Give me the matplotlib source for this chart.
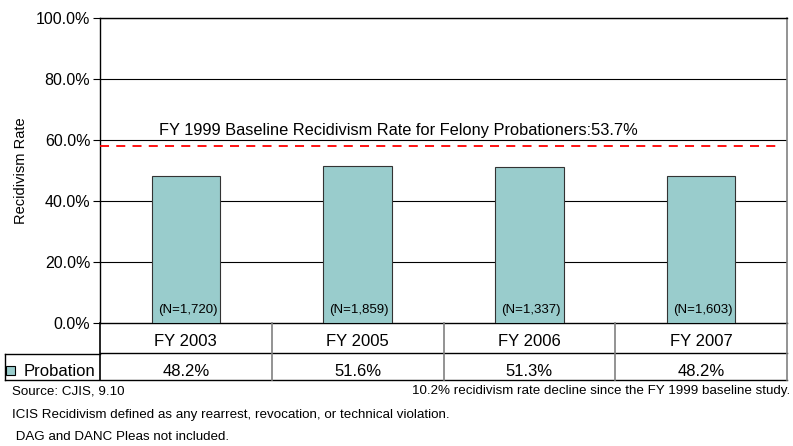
import matplotlib
matplotlib.use("Agg")
import matplotlib.pyplot as plt
from matplotlib.lines import Line2D
from matplotlib.patches import Rectangle

plt.rcParams['font.family'] = ['Liberation Sans', 'DejaVu Sans']

categories = ["FY 2003", "FY 2005", "FY 2006", "FY 2007"]
probation = [48.2, 51.6, 51.3, 48.2]
n_labels = ["(N=1,720)", "(N=1,859)", "(N=1,337)", "(N=1,603)"]
baseline_line = 58.0
baseline_text = "FY 1999 Baseline Recidivism Rate for Felony Probationers:53.7%"
yticks = [0, 20, 40, 60, 80, 100]
series_name = "Probation"
bar_color = "#99CCCC"

W, H = 793, 446
fig = plt.figure(figsize=(W / 100, H / 100), dpi=100)
L, R, T, B = 100, 787, 18, 323
ax = fig.add_axes([L / W, 1 - B / H, (R - L) / W, (B - T) / H])

x = list(range(len(categories)))
ax.bar(x, probation, width=0.4, color=bar_color, edgecolor="#333333", linewidth=0.8, zorder=3)
ax.set_xlim(-0.5, len(categories) - 0.5)
ax.set_ylim(0, 100)
ax.set_yticks(yticks)
ax.set_yticklabels([f"{v:.1f}%" for v in yticks], fontsize=11.5)
ax.set_xticks([])
ax.tick_params(axis='y', length=5, width=0.8, pad=2)
for v in yticks[1:]:
    ax.axhline(v, color="black", linewidth=0.8, zorder=1)
for s in ['top', 'left', 'bottom']:
    ax.spines[s].set_color('black')
    ax.spines[s].set_linewidth(1.0)
ax.spines['right'].set_color('#808080')
ax.spines['right'].set_linewidth(1.2)
ax.set_ylabel("Recidivism Rate", fontsize=10.5, labelpad=6)

for xi, lab in zip(x, n_labels):
    ax.text(xi + 0.01, 2.3, lab, ha='center', va='bottom', fontsize=9.5, zorder=4)

ax.plot([-0.5, len(categories) - 0.5 - 0.04], [baseline_line, baseline_line],
        color='red', linestyle=(0, (5, 4)), linewidth=1.3, zorder=4)
ax.text(-0.155, baseline_line + 2.5, baseline_text, fontsize=11.8, ha='left', va='bottom')

# data table below the axis
def fx(px):
    return px / W

def fy(py):
    return 1 - py / H

row1, row2, row3 = 323, 353, 380
colw = (R - L) / len(categories)
fig.add_artist(Line2D([fx(L), fx(R)], [fy(row2), fy(row2)], color='black', lw=1.0))
fig.add_artist(Line2D([fx(5), fx(R)], [fy(row3), fy(row3)], color='black', lw=1.0))
fig.add_artist(Line2D([fx(5), fx(L)], [fy(row2 + 1), fy(row2 + 1)], color='black', lw=1.0))
for i in range(len(categories) + 1):
    xp = L + i * colw
    col = 'black' if i == 0 else '#808080'
    fig.add_artist(Line2D([fx(xp), fx(xp)], [fy(row1), fy(row3)], color=col, lw=1.2))
fig.add_artist(Line2D([fx(5), fx(5)], [fy(row2 + 1), fy(row3)], color='black', lw=1.0))

for i, (c, v) in enumerate(zip(categories, probation)):
    xc = L + (i + 0.5) * colw
    fig.text(fx(xc), fy(342), c, ha='center', va='center', fontsize=12)
    fig.text(fx(xc), fy(371), f"{v:.1f}%", ha='center', va='center', fontsize=12)

fig.add_artist(Rectangle((fx(6), fy(375)), 9 / W, 9 / H, facecolor=bar_color,
                         edgecolor='black', lw=0.8))
fig.text(fx(24), fy(371), series_name, ha='left', va='center', fontsize=12)

fs = 9.6
fig.text(fx(12), fy(391), "Source: CJIS, 9.10", ha='left', va='center', fontsize=fs)
fig.text(fx(790), fy(391), "10.2% recidivism rate decline since the FY 1999 baseline study.",
         ha='right', va='center', fontsize=fs)
fig.text(fx(12), fy(415), "ICIS Recidivism defined as any rearrest, revocation, or technical violation.",
         ha='left', va='center', fontsize=fs)
fig.text(fx(12), fy(437), " DAG and DANC Pleas not included.", ha='left', va='center', fontsize=fs)

fig.savefig("out.png", dpi=100)
